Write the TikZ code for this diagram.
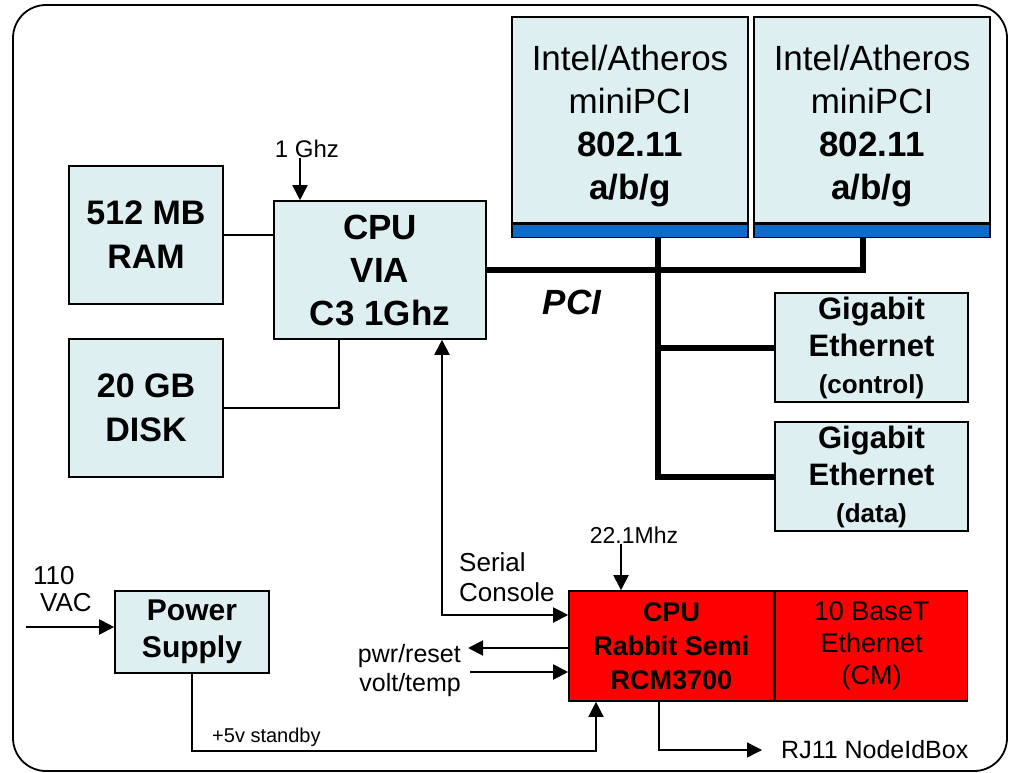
\documentclass[tikz,border=0pt]{standalone}
\usepackage{fontspec}
\setmainfont{Liberation Sans}
\usepackage{xcolor}
\definecolor{boxfill}{RGB}{221,239,241}
\definecolor{barblue}{RGB}{16,106,200}
\definecolor{rabbitred}{RGB}{255,0,0}
\usetikzlibrary{arrows.meta}
\newcommand{\txtsize}[2]{\fontsize{#1}{#2}\selectfont}
\tikzset{
	>={Triangle[length=15pt,width=15pt]},
	hwbox/.style = {draw,fill=boxfill,line width=1.6pt,inner sep=0pt,align=center},
	redbox/.style = {hwbox,fill=rabbitred},
	wifibar/.style = {draw,fill=barblue,line width=1.6pt,minimum width=236pt,minimum height=13pt,inner sep=0pt,anchor=north},
	wire/.style = {line width=1.3pt},
	sig/.style = {line width=2pt,->},
	bus/.style = {line width=6pt},
	lbl/.style = {inner sep=0pt}
}

\begin{document}
\begin{tikzpicture}[x=1pt,y=-1pt]
		\useasboundingbox (0,0) rectangle (1009,773);
		\draw[line width=1.8pt,rounded corners=33pt] (13,5) rectangle (1007,771);
	
		\node[hwbox,minimum width=154pt,minimum height=138pt,font=\bfseries\txtsize{34}{44}] (ram) at (146,235) {512 MB\\RAM};
		\node[hwbox,minimum width=154pt,minimum height=138pt,font=\bfseries\txtsize{34}{44}] (disk) at (146,408) {20 GB\\DISK};
		\node[hwbox,minimum width=212pt,minimum height=138pt,font=\bfseries\txtsize{35}{43}] (cpu) at (380,270) {CPU\\VIA\\C3 1Ghz};
	
		\node[hwbox,minimum width=236pt,minimum height=206pt,font=\txtsize{35}{43}] (wifiA) at (630,120) {\\[-6pt]Intel/Atheros\\miniPCI\\\textbf{802.11}\\\textbf{a/b/g}};
		\node[wifibar] (barA) at (wifiA.south) {};
		\node[hwbox,minimum width=236pt,minimum height=206pt,font=\txtsize{35}{43}] (wifiB) at (872,120) {\\[-6pt]Intel/Atheros\\miniPCI\\\textbf{802.11}\\\textbf{a/b/g}};
		\node[wifibar] (barB) at (wifiB.south) {};
	
		\node[hwbox,minimum width=193pt,minimum height=109pt,font=\bfseries\txtsize{31}{37}] (gigA) at (871.5,347.5) {Gigabit\\Ethernet\\{\txtsize{26}{34}(control)}};
		\node[hwbox,minimum width=193pt,minimum height=109pt,font=\bfseries\txtsize{31}{37}] (gigB) at (871.5,476.5) {Gigabit\\Ethernet\\{\txtsize{26}{34}(data)}};
	
		\node[redbox,minimum width=205pt,minimum height=110pt,font=\bfseries\txtsize{27}{34}] (rabbit) at (671.5,646) {CPU\\Rabbit Semi\\RCM3700};
		\node[redbox,minimum width=192pt,minimum height=110pt,font=\txtsize{27}{32},anchor=west] (eth) at (rabbit.east) {10 BaseT\\Ethernet\\(CM)};
		\node[hwbox,minimum width=154pt,minimum height=82pt,font=\bfseries\txtsize{30}{37}] (psu) at (192,632) {Power\\Supply};
	
		\node[lbl,font=\txtsize{24}{28}] (ghz) at (307,149) {1 Ghz};
		\node[lbl,font=\bfseries\itshape\txtsize{35}{40}] (pci) at (572,302) {PCI};
		\node[lbl,font=\txtsize{23}{28}] (mhz) at (634,535) {22.1Mhz};
		\node[lbl,font=\txtsize{26}{30},align=left,anchor=west] (serial) at (459,577) {Serial\\Console};
		\node[lbl,font=\txtsize{25}{29},align=right,anchor=east] (pwrtemp) at (461,671) {pwr/reset\\volt/temp};
		\node[lbl,font=\txtsize{26}{27},align=left,anchor=west] (vac) at (33,589) {110\\\hspace*{7pt}VAC};
		\node[lbl,font=\txtsize{20}{24},anchor=south west] (stbylbl) at (212,747) {+5v standby};
		\node[lbl,font=\txtsize{25}{30},anchor=west] (rj) at (781,750) {RJ11 NodeIdBox};
	
		\coordinate (pcitap) at ([xshift=28pt]barA.south);
		\coordinate (acin) at (26,627);
		\coordinate (pwrout) at (468,648);
		\coordinate (tempin) at (470,672);
		\coordinate (stby) at (596,751);
	
		\draw[wire] (ram.east) -- (ram.east -| cpu.west);
		\draw[wire] ([xshift=-41pt]cpu.south) |- (disk.east);
		\draw[sig] ([xshift=-7pt]ghz.south) -- ([xshift=-80pt]cpu.north);
	
		\draw[bus] (cpu.east) -| ([xshift=-9pt]barB.south);
		\draw[bus] (pcitap) |- (gigB.west);
		\draw[bus] (gigA.west) -- (gigA.west -| pcitap);
	
		\draw[sig,<->] ([xshift=62pt]cpu.south) |- ([yshift=31pt]rabbit.west);
		\draw[sig] ([xshift=-13pt]mhz.south) -- ([xshift=-50.5pt]rabbit.north);
		\draw[sig] (rabbit.west |- pwrout) -- (pwrout);
		\draw[sig] (tempin) -- (tempin -| rabbit.west);
		\draw[sig] (acin) -- (acin -| psu.west);
		\draw[wire,->] (psu.south) |- (stby) -- (stby |- rabbit.south);
		\draw[wire,->] ([xshift=-12.5pt]rabbit.south) |- ([xshift=-19pt]rj.west);
	\end{tikzpicture}
\end{document}
